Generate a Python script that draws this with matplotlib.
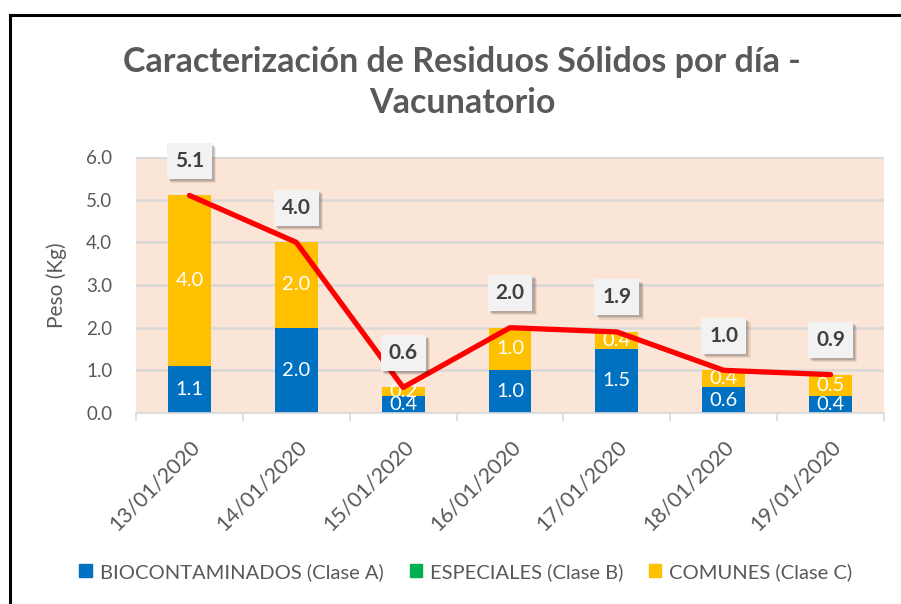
import matplotlib
matplotlib.use("Agg")
import matplotlib.pyplot as plt
import matplotlib.patheffects as pe
from matplotlib.patches import Patch
import numpy as np

# chart data
fechas = ["13/01/2020", "14/01/2020", "15/01/2020", "16/01/2020",
          "17/01/2020", "18/01/2020", "19/01/2020"]
clase_a = [1.1, 2.0, 0.4, 1.0, 1.5, 0.6, 0.4]
clase_b = [0.0, 0.0, 0.0, 0.0, 0.0, 0.0, 0.0]
clase_c = [4.0, 2.0, 0.2, 1.0, 0.4, 0.4, 0.5]
totales = [5.1, 4.0, 0.6, 2.0, 1.9, 1.0, 0.9]
series_names = ["BIOCONTAMINADOS (Clase A)", "ESPECIALES (Clase B)", "COMUNES (Clase C)"]

COL_A = "#0070C0"
COL_B = "#00B050"
COL_C = "#FFC000"
TXT = "#595959"

plt.rcParams["font.family"] = ["Lato", "DejaVu Sans"]

fig = plt.figure(figsize=(9.01, 6.04), dpi=100)
W, H = 901, 604

# outer black frame (only left and top visible in the crop)
fig.add_artist(plt.Line2D([10 / W, 10 / W], [0, 1 - 15 / H], color="black", lw=2.2,
                          transform=fig.transFigure))
fig.add_artist(plt.Line2D([10 / W, 1.0], [1 - 15 / H, 1 - 15 / H], color="black", lw=2.2,
                          transform=fig.transFigure))

ax = fig.add_axes([136 / W, 1 - 413 / H, (884 - 136) / W, (413 - 157) / H])
ax.set_facecolor("#FBE5D6")

x = np.arange(len(fechas))
a = np.array(clase_a)
b = np.array(clase_b)
c = np.array(clase_c)
w = 0.40
ax.bar(x, a, w, color=COL_A, zorder=2)
ax.bar(x, b, w, bottom=a, color=COL_B, zorder=2)
ax.bar(x, c, w, bottom=a + b, color=COL_C, zorder=2)

# segment labels
for i in range(len(x)):
    ax.text(x[i], a[i] / 2, f"{a[i]:.1f}", ha="center", va="center",
            color="white", fontsize=14.5, zorder=3)
    ax.text(x[i], a[i] + b[i] + c[i] / 2, f"{c[i]:.1f}", ha="center", va="center",
            color="white", fontsize=14.5, zorder=3)

ax.plot(x, totales, color="#FF0000", lw=3.8, zorder=4,
        solid_joinstyle="round", solid_capstyle="round")

# total labels in boxes, with a soft shadow
for i, t in enumerate(totales):
    lbl = ax.annotate(f"{t:.1f}", (x[i], t), xytext=(0, 25), textcoords="offset points",
                      ha="center", va="center", fontsize=15, fontweight="bold",
                      color="#404040", zorder=6,
                      bbox=dict(boxstyle="square,pad=0.38", fc="#F2F2F2", ec="none"))
    lbl.get_bbox_patch().set_path_effects([
        pe.SimplePatchShadow(offset=(3.2, -3.2), shadow_rgbFace="black", alpha=0.07),
        pe.SimplePatchShadow(offset=(2.4, -2.4), shadow_rgbFace="black", alpha=0.10),
        pe.SimplePatchShadow(offset=(1.6, -1.6), shadow_rgbFace="black", alpha=0.12),
        pe.Normal(),
    ])

ax.set_ylim(0, 6.0)
ax.set_xlim(-0.5, len(x) - 0.5)
ax.set_yticks(np.arange(0, 6.01, 1.0))
ax.set_yticklabels([f"{v:.1f}" for v in np.arange(0, 6.01, 1.0)])
ax.yaxis.grid(True, color="#D9D9D9", lw=1.8, zorder=1)
ax.set_axisbelow(True)
for s in ["top", "right", "left"]:
    ax.spines[s].set_visible(False)
ax.spines["bottom"].set_color("#D9D9D9")
ax.spines["bottom"].set_linewidth(1.2)

ax.set_xticks(x)
ax.set_xticklabels(fechas, rotation=45, ha="right", rotation_mode="anchor",
                   fontsize=15.5, color=TXT)
ax.tick_params(axis="x", length=0, pad=17)
ax.set_xticks(np.arange(-0.5, len(x)), minor=True)
ax.tick_params(axis="x", which="minor", length=6, color="#D9D9D9", width=1.2)
ax.tick_params(axis="y", length=0, labelsize=13.5, labelcolor=TXT, pad=17)
ax.set_ylabel("Peso (Kg)", fontsize=15, color=TXT, labelpad=14)

fig.text(462 / W, 1 - 62 / H, "Caracterización de Residuos Sólidos por día -",
         ha="center", va="center", fontsize=24.5, fontweight="bold", color=TXT)
fig.text(462 / W, 1 - 103 / H, "Vacunatorio",
         ha="center", va="center", fontsize=24.5, fontweight="bold", color=TXT)

handles = [Patch(color=COL_A), Patch(color=COL_B), Patch(color=COL_C)]
fig.legend(handles, series_names, loc="center", bbox_to_anchor=(466 / W, 1 - 572 / H),
           ncol=3, frameon=False, fontsize=14.5, labelcolor=TXT,
           handlelength=0.6, handleheight=0.6, handletextpad=0.4, columnspacing=1.3)

fig.savefig("out.png", dpi=100)
